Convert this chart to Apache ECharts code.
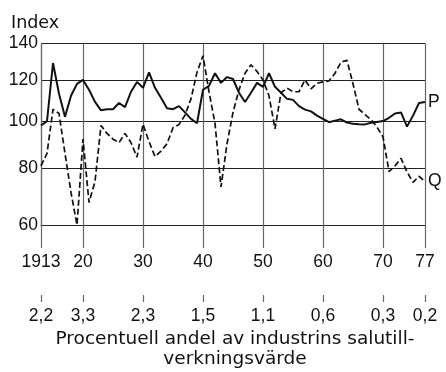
<!DOCTYPE html>
<html>
<head>
<meta charset="utf-8">
<script src="https://cdn.jsdelivr.net/npm/echarts@6/dist/echarts.min.js"></script>
<style>
  html, body { margin: 0; padding: 0; background: #fff; }
  #chart { width: 446px; height: 372px; }
</style>
</head>
<body>
<div id="chart"></div>
<script>
// Annual price (P) and volume (Q) index, 1913-1977
const years = [
  1913, 1914, 1915, 1916, 1917, 1918, 1919, 1920, 1921, 1922,
  1923, 1924, 1925, 1926, 1927, 1928, 1929, 1930, 1931, 1932,
  1933, 1934, 1935, 1936, 1937, 1938, 1939, 1940, 1941, 1942,
  1943, 1944, 1945, 1946, 1947, 1948, 1949, 1950, 1951, 1952,
  1953, 1954, 1955, 1956, 1957, 1958, 1959, 1960, 1961, 1962,
  1963, 1964, 1965, 1966, 1967, 1968, 1969, 1970, 1971, 1972,
  1973, 1974, 1975, 1976, 1977
];

const seriesP = [
  98, 100, 129, 113, 102, 112, 118, 120, 115, 109,
  105, 105.5, 105.5, 108.5, 106.5, 114, 119, 116, 124, 116,
  111, 106, 105.5, 107, 104, 101, 99, 115, 117, 123.5,
  118.5, 121.5, 120.5, 113.5, 109, 113.5, 118.5, 116.5, 123.5, 116.5,
  113.5, 110.5, 110, 107, 105.3, 104.5, 102.5, 101, 99.5, 100.2,
  100.8, 99.3, 98.8, 98.6, 98.5, 99.2, 99.6, 100, 101.5, 103.5,
  104, 97.5, 102.5, 108.5, 109
];

const seriesQ = [
  81, 86, 105.5, 103.5, 86, 71, 60, 92, 67.5, 75,
  98, 94.5, 92, 90.5, 94.5, 90.5, 84.5, 98.6, 91, 84.7,
  87, 90, 97, 98.5, 102.7, 110.5, 124, 133, 114, 99,
  73, 90, 104, 115, 123.5, 128, 124.5, 120, 112, 96.5,
  113.5, 115.8, 114, 114, 120, 115.5, 118.3, 119, 119.5, 123.5,
  129.5, 130.5, 118, 105.5, 103, 100.7, 97.3, 93, 78.8, 81,
  84, 78.7, 74.7, 77, 75
];

// Axis ticks and their labels
const indexTicks = [60, 80, 100, 120, 140];
const yearTicks = [1913, 1920, 1930, 1940, 1950, 1960, 1970, 1977];
const yearTickLabels = ['1913', '20', '30', '40', '50', '60', '70', '77'];
const shareTickLabels = ['2,2', '3,3', '2,3', '1,5', '1,1', '0,6', '0,3', '0,2'];

// The index axis is compressed towards the top: a power scale v^0.3
const EXP = 0.3;
const scaleY = v => Math.pow(v, EXP);
const unscaleY = t => Math.pow(t, 1 / EXP);

const FONT = '"Liberation Sans", Arial, Helvetica, sans-serif';
const WORD_FONT = '"DejaVu Sans", "Liberation Sans", sans-serif';
const INK = '#111';

const chart = echarts.init(document.getElementById('chart'), null, { renderer: 'canvas' });

const labelFor = (ticks, labels) => v => {
  const i = ticks.findIndex(t => Math.abs(t - v) < 1e-6);
  return i >= 0 ? labels[i] : '';
};

chart.setOption({
  backgroundColor: '#fff',
  animation: false,
  grid: { left: 41, right: 21, top: 43.4, bottom: 147, containLabel: false },
  xAxis: [
    {
      type: 'value',
      min: 1913,
      max: 1977,
      position: 'bottom',
      axisLine: { show: true, lineStyle: { color: '#222', width: 1.2 } },
      axisTick: {
        show: true, inside: false, length: 23, customValues: yearTicks,
        lineStyle: { color: '#666', width: 1.2 }
      },
      axisLabel: {
        customValues: yearTicks,
        formatter: labelFor(yearTicks, yearTickLabels),
        margin: 28, fontSize: 17.5, fontFamily: FONT, color: INK
      },
      splitLine: { show: true, lineStyle: { color: '#666', width: 1.2 } }
    },
    {
      type: 'value',
      min: 1913,
      max: 1977,
      position: 'bottom',
      offset: 70,
      axisLine: { show: false },
      axisTick: {
        show: true, inside: false, length: 7, customValues: yearTicks,
        lineStyle: { color: '#666', width: 1.2 }
      },
      axisLabel: {
        customValues: yearTicks,
        formatter: labelFor(yearTicks, shareTickLabels),
        margin: 12, fontSize: 17.5, fontFamily: FONT, color: INK
      },
      splitLine: { show: false }
    }
  ],
  yAxis: {
    type: 'value',
    min: scaleY(60),
    max: scaleY(140),
    axisLine: { show: true, lineStyle: { color: '#666', width: 1.2 } },
    axisTick: { show: false, customValues: indexTicks.map(scaleY) },
    axisLabel: {
      customValues: indexTicks.map(scaleY),
      formatter: t => String(Math.round(unscaleY(t))),
      margin: 3, padding: [5, 0, 0, 0],
      fontSize: 17.5, fontFamily: FONT, color: INK
    },
    splitLine: { show: true, lineStyle: { color: '#222', width: 1.2 } }
  },
  graphic: [
    {
      type: 'text', x: 11, y: 14,
      style: { text: 'Index', fontSize: 17.5, fontFamily: WORD_FONT, fill: INK }
    },
    {
      type: 'text', x: 235, y: 329,
      style: {
        text: 'Procentuell andel av industrins salutill-\nverkningsvärde',
        fontSize: 18.5, fontFamily: WORD_FONT, fill: INK,
        align: 'center', verticalAlign: 'top', lineHeight: 20
      }
    }
  ],
  series: [
    {
      name: 'P',
      type: 'line',
      data: years.map((y, i) => [y, scaleY(seriesP[i])]),
      showSymbol: false,
      lineStyle: { color: INK, width: 2 },
      endLabel: { show: true, formatter: 'P', fontSize: 17.5, fontFamily: FONT, color: INK, distance: 3 },
      z: 3
    },
    {
      name: 'Q',
      type: 'line',
      data: years.map((y, i) => [y, scaleY(seriesQ[i])]),
      showSymbol: false,
      lineStyle: { color: INK, width: 1.7, type: [6, 3] },
      endLabel: { show: true, formatter: 'Q', fontSize: 17.5, fontFamily: FONT, color: INK, distance: 3 },
      z: 3
    }
  ]
});
</script>
</body>
</html>
